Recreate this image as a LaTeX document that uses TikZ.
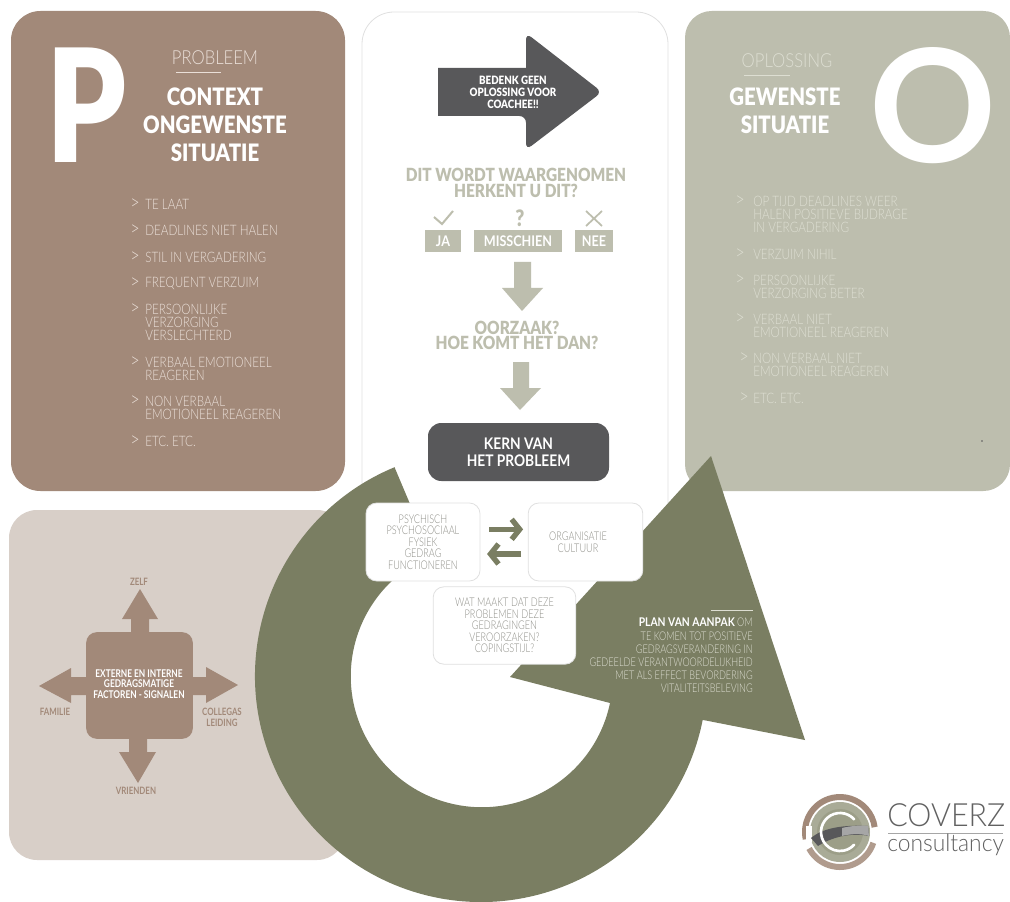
\documentclass[tikz,border=0pt]{standalone}
\usepackage{fontspec}
\usetikzlibrary{arrows.meta}
\setmainfont{Lato}
\newfontfamily\ltf{Lato}[UprightFont=* Light,FakeStretch=0.86]
\newfontfamily\lnf{Lato}[UprightFont=* Light,FakeStretch=0.81]
\newfontfamily\smf{Lato}[UprightFont=* Light,FakeStretch=0.76]
\newfontfamily\lgf{Lato}[UprightFont=* Light,FakeStretch=0.95]
\newfontfamily\bdf{Lato}[UprightFont=* Bold,FakeStretch=0.86]
\newfontfamily\cbf{Lato}[UprightFont=* Bold,FakeStretch=0.78]
\newfontfamily\hvf{Lato}[UprightFont=* Black,FakeStretch=0.85]
\newfontfamily\bigf{Lato}[UprightFont=* Bold]
\newfontfamily\bigp{Lato}[UprightFont=* Black,FakeStretch=0.8]
\definecolor{brownc}{HTML}{A28979}
\definecolor{sagec}{HTML}{BDBEAE}
\definecolor{beigec}{HTML}{D8CFC8}
\definecolor{olivec}{HTML}{7A7E62}
\definecolor{darkc}{HTML}{58585A}
\definecolor{palebrown}{HTML}{EADFD8}
\definecolor{palesage}{HTML}{DDDED2}
\definecolor{palegrey}{HTML}{8F8F88}
\newcommand\chev{\fontsize{15pt}{15pt}\selectfont >}
\newcommand\liP[3]{%
  \node[plist] (#1b) at (130,#2) {\chev};
  \node[plist] (#1) at (145,#2) {#3};}
\newcommand\liO[5]{%
  \node[olist] (#1b) at (#2,#3) {\chev};
  \node[olist] (#1) at (753,#4) {#5};}
\tikzset{
  x=0.75pt,y=-0.75pt,
  plist/.style={anchor=west,inner sep=0pt,align=left,text=palebrown,font=\lnf\fontsize{10.8pt}{9.8pt}\selectfont},
  olist/.style={anchor=west,inner sep=0pt,align=left,text=palesage,font=\lnf\fontsize{10.8pt}{9.8pt}\selectfont},
  head/.style={inner sep=0pt,align=center,text=white,font=\hvf\fontsize{18pt}{21pt}\selectfont},
  sub/.style={inner sep=0pt,text=palebrown,font=\ltf\fontsize{14.5pt}{16pt}\selectfont},
  sagetext/.style={inner sep=0pt,align=center,text=sagec,font=\hvf\fontsize{13.6pt}{11.8pt}\selectfont},
  tag/.style={inner sep=0pt,fill=sagec,text=white,minimum height=16.5pt,font=\bdf\fontsize{11pt}{12pt}\selectfont},
  softbox/.style={draw=black!12,line width=0.6pt,fill=white,rounded corners=8pt,inner sep=0pt,align=center,text=palegrey,font=\smf\fontsize{9pt}{8.7pt}\selectfont},
  swaparrow/.style={draw=olivec,line width=4pt,-{Straight Barb[length=6pt,width=15pt,line width=4pt]}},
  fac/.style={inner sep=0pt,align=center,text=brownc,font=\cbf\fontsize{7.6pt}{8.2pt}\selectfont},
  thin rule/.style={draw=palebrown,line width=0.6pt},
}
\begin{document}
\begin{tikzpicture}
\useasboundingbox (0,0) rectangle (1010,902);
\fill[white] (0,0) rectangle (1010,902);
% panels
\fill[brownc,rounded corners=22pt] (11,11) rectangle (345,491);
\fill[sagec,rounded corners=20pt] (685,11) rectangle (1010,491);
\fill[beigec,rounded corners=21pt] (9,510) rectangle (345,860);
\fill[white,rounded corners=24pt] (362,12) rectangle (668,565);
\draw[black!12,line width=0.6pt,rounded corners=24pt] (362,565) -- (362,12) -- (668,12) -- (668,565);
% P panel
\node[anchor=base west,inner sep=0pt,text=white,font=\bigp\fontsize{118pt}{118pt}\selectfont] (bigP) at (46,163) {P};
\node[sub] (prob) at (215,58) {PROBLEEM};
\draw[thin rule] (176,72) -- (221,72);
\node[head] (ctx) at (215,125) {CONTEXT\\ONGEWENSTE\\SITUATIE};
\liP{p1}{204}{TE LAAT}
\liP{p2}{230}{DEADLINES NIET HALEN}
\liP{p3}{257}{STIL IN VERGADERING}
\liP{p4}{283}{FREQUENT VERZUIM}
\node[plist] (p5b) at (130,309) {\chev};
\node[plist] (p5) at (145,322) {PERSOONLIJKE\\VERZORGING\\VERSLECHTERD};
\node[plist] (p6b) at (130,362) {\chev};
\node[plist] (p6) at (145,369) {VERBAAL EMOTIONEEL\\REAGEREN};
\node[plist] (p7b) at (130,401) {\chev};
\node[plist] (p7) at (145,408) {NON VERBAAL\\EMOTIONEEL REAGEREN};
\liP{p8}{441}{ETC. ETC.}
% O panel
\node[anchor=center,inner sep=0pt,text=white,font=\bigf\fontsize{118pt}{118pt}\selectfont] (bigO) at (933,106) {O};
\node[sub,text=palesage] (opl) at (787,61) {OPLOSSING};
\draw[draw=palesage,line width=0.6pt] (744,75) -- (790,75);
\node[head] (gew) at (785,111) {GEWENSTE\\SITUATIE};
\liO{o1}{735}{201}{214}{OP TIJD DEADLINES WEER\\HALEN POSITIEVE BIJDRAGE\\IN VERGADERING}
\liO{o2}{735}{254}{254}{VERZUIM NIHIL}
\liO{o3}{735}{280}{286.5}{PERSOONLIJKE\\VERZORGING BETER}
\liO{o4}{735}{319}{325.5}{VERBAAL NIET\\EMOTIONEEL REAGEREN}
\liO{o5}{739}{358}{364.5}{NON VERBAAL NIET\\EMOTIONEEL REAGEREN}
\liO{o6}{739}{398}{398}{ETC. ETC.}
\fill[darkc] (982,441) circle[radius=0.8];
% centre column
\fill[darkc,rounded corners=5pt] (526,33) -- (602,92) -- (526,150) -- (526,116) [sharp corners] -- (438,116) -- (438,68) -- (526,68) [rounded corners=5pt] -- cycle;
\node[inner sep=0pt,align=center,text=white,font=\hvf\fontsize{8.6pt}{9pt}\selectfont] (geen) at (513,92) {BEDENK GEEN\\OPLOSSING VOOR\\COACHEE!!};
\node[sagetext] (dit) at (516,183) {DIT WORDT WAARGENOMEN\\HERKENT U DIT?};
\draw[sagec,line width=1.5pt] (434,217) -- (442,224) -- (453,211);
\node[inner sep=0pt,text=sagec,font=\hvf\fontsize{17pt}{17pt}\selectfont] (qm) at (520,218) {?};
\draw[sagec,line width=1.3pt] (586,211) -- (602,226) (602,211) -- (586,226);
\node[tag,minimum width=27pt] (ja) at (443,241) {JA};
\node[tag,minimum width=66pt] (mis) at (518,241) {MISSCHIEN};
\node[tag,minimum width=28.5pt] (nee) at (594,241) {NEE};
\fill[sagec] (514,262) -- (531,262) -- (531,288) -- (543,288) -- (522,311) -- (502,288) -- (514,288) -- cycle;
\node[sagetext,font=\hvf\fontsize{13.6pt}{11.8pt}\selectfont] (oorz) at (517,335.5) {OORZAAK?\\HOE KOMT HET DAN?};
\fill[sagec] (513,362) -- (529,362) -- (529,388) -- (541,388) -- (520,410) -- (500,388) -- (513,388) -- cycle;
\node[inner sep=0pt,fill=darkc,rounded corners=10pt,minimum width=135.75pt,minimum height=43.5pt,align=center,text=white,font=\bdf\fontsize{12pt}{13pt}\selectfont] (kern) at (518.5,452) {KERN VAN\\HET PROBLEEM};
% big circular arrow
\coordinate (ctr) at (481,676);
\fill[olivec] (ctr) ++(247.5:226) arc[start angle=247.5,end angle=11.2,radius=226] -- (805,740) -- (711,456) -- (510,677) -- (610,703) arc[start angle=11.8,end angle=247.5,radius=131] -- cycle;
% boxes on the ring
\node[softbox,minimum width=85.5pt,minimum height=58.5pt] (b1) at (423,542) {PSYCHISCH\\PSYCHOSOCIAAL\\FYSIEK\\GEDRAG\\FUNCTIONEREN};
\node[softbox,minimum width=86pt,minimum height=58.5pt] (b2) at (585.5,542) {};
\node[inner sep=0pt,align=center,text=palegrey,font=\smf\fontsize{9pt}{8.7pt}\selectfont] (b2t) at (578,542) {ORGANISATIE\\CULTUUR};
\node[softbox,minimum width=107pt,minimum height=58pt] (b3) at (504.5,625.5) {WAT MAAKT DAT DEZE\\PROBLEMEN DEZE\\GEDRAGINGEN\\VEROORZAKEN?\\COPINGSTIJL?};
\draw[swaparrow,shorten <=6.5pt,shorten >=3.5pt] ([yshift=9.5pt]b1.east) -- ([yshift=9.5pt]b2.west);
\draw[swaparrow,shorten <=5pt,shorten >=5pt] ([yshift=-9pt]b2.west) -- ([yshift=-9pt]b1.east);
\draw[draw=palesage,line width=0.6pt] (711,610) -- (753,610);
\node[anchor=north east,inner sep=0pt,align=right,text=palesage,font=\smf\fontsize{9pt}{9.8pt}\selectfont] (plan) at (753,618) {{\bdf\color{white}PLAN VAN AANPAK} OM\\TE KOMEN TOT POSITIEVE\\GEDRAGSVERANDERING IN\\GEDEELDE VERANTWOORDELIJKHEID\\MET ALS EFFECT BEVORDERING\\VITALITEITSBELEVING};
% factors
\fill[brownc] (131,640) -- (131,619) -- (122,619) -- (140,589) -- (158,619) -- (149,619) -- (149,640) -- cycle;
\fill[brownc] (95,677) -- (71,677) -- (71,668) -- (39,686) -- (71,703) -- (71,695) -- (95,695) -- cycle;
\fill[brownc] (185,677) -- (206,677) -- (206,667) -- (238,685) -- (206,703) -- (206,695) -- (185,695) -- cycle;
\fill[brownc] (129,730) -- (129,752) -- (119,752) -- (138,783) -- (156,752) -- (147,752) -- (147,730) -- cycle;
\node[fill=brownc,rounded corners=8pt,inner sep=0pt,minimum width=80pt,minimum height=80pt] (fbox) at (139.5,685.5) {};
\node[inner sep=0pt,align=center,text=white,font=\cbf\fontsize{8pt}{8pt}\selectfont] (ftxt) at (139,684) {EXTERNE EN INTERNE\\GEDRAGSMATIGE\\FACTOREN - SIGNALEN};
\node[fac] (zelf) at (139,582) {ZELF};
\node[fac] (fam) at (55,712) {FAMILIE};
\node[fac] (col) at (222,717.5) {COLLEGAS\\LEIDING};
\node[fac] (vri) at (136,791) {VRIENDEN};
% logo
\coordinate (lg) at (840,832);
\fill[sagec!70!olivec] (lg) circle[radius=30];
\fill[sagec!50!olivec] (lg) circle[radius=23];
\draw[brownc,line width=4.5pt] (lg) ++(168:35) arc[start angle=168,end angle=352,radius=35];
\draw[brownc!85,line width=4.5pt] (lg) ++(18:35) arc[start angle=18,end angle=152,radius=35];
\fill[white] (806,826) rectangle (812,842);
\fill[darkc] (811,838) .. controls (825,826) and (850,825) .. (868,826) -- (869,836) .. controls (850,832) and (830,838) .. (818,846) -- cycle;
\fill[black!35] (842,828) .. controls (850,826) and (860,825) .. (868,826) -- (869,836) .. controls (860,833) and (850,834) .. (842,836) -- cycle;
\draw[white,line width=2pt,line cap=round] (lg) ++(-42:19) arc[start angle=-42,end angle=-318,radius=19];
\node[anchor=base west,inner sep=0pt,text=black!62,font=\lgf\fontsize{24pt}{24pt}\selectfont] (cvz) at (887,826) {COVERZ};
\draw[black!35,line width=0.5pt] (888,833) -- (1003,833);
\node[anchor=base west,inner sep=0pt,text=black!62,font=\lgf\fontsize{18pt}{18pt}\selectfont] (cns) at (887,851) {consultancy};
\end{tikzpicture}
\end{document}
